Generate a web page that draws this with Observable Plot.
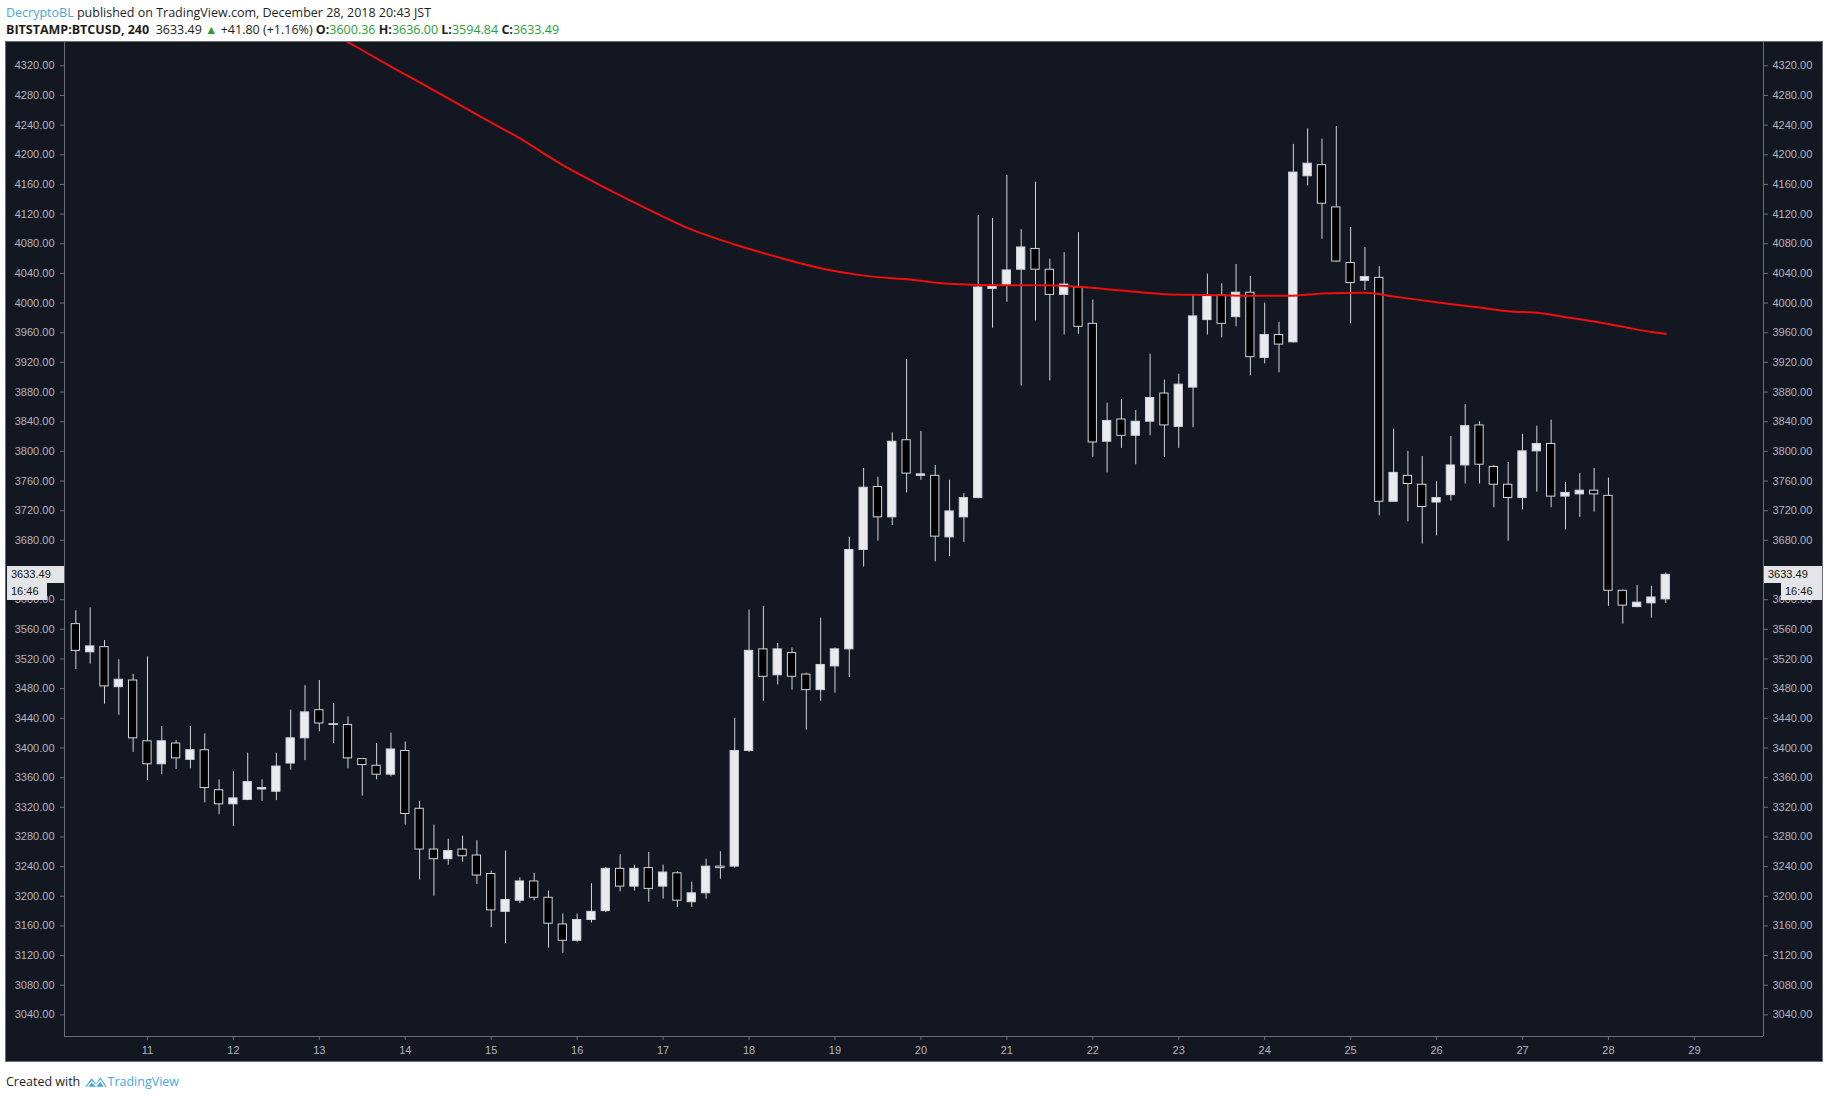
<!DOCTYPE html>
<html>
<head>
<meta charset="utf-8">
<script src="https://cdn.jsdelivr.net/npm/d3@7"></script>
<script src="https://cdn.jsdelivr.net/npm/@observablehq/plot@0.6"></script>
<style>
  html, body { margin: 0; padding: 0; background: #ffffff; }
  body { width: 1828px; height: 1098px; position: relative; overflow: hidden; font-family: "Open Sans", "Noto Sans", sans-serif; }
  .hdr { position: absolute; left: 6px; white-space: nowrap; color: #1e1e1e; font-size: 12.5px; }
  .blue { color: #42a9dc; }
  .green { color: #2e9d36; }
  #panel { position: absolute; left: 6px; top: 42px; width: 1816px; height: 1019px; background: #131722; box-sizing: border-box; outline: 1px solid #6b6e78; }
  .pbox { position: absolute; background: #e4e5e8; color: #111; font-family: "Liberation Sans", Arial, sans-serif; font-size: 11px; line-height: 17px; height: 17px; box-sizing: border-box; padding-left: 4px; }
  #footer { position: absolute; left: 6px; top: 1073px; font-size: 12.5px; color: #1e1e1e; white-space: nowrap; display: flex; align-items: center; }
</style>
</head>
<body>
<div class="hdr" style="top:4px;"><span class="blue">DecryptoBL</span> published on TradingView.com, December 28, 2018 20:43 JST</div>
<div class="hdr" style="top:21px;"><b>BITSTAMP:BTCUSD, 240</b>&nbsp; 3633.49 <span class="green">&#9650;</span> +41.80 (+1.16%) <b>O:</b><span class="green">3600.36</span> <b>H:</b><span class="green">3636.00</span> <b>L:</b><span class="green">3594.84</span> <b>C:</b><span class="green">3633.49</span></div>
<div id="panel"></div>
<div id="footer">Created with&nbsp;<svg width="24" height="15" viewBox="0 0 22 14"><path d="M1 12 L7 4 L11 9 L15 3 L21 12 Z" fill="#42a9dc"/><path d="M3 12 L7 7 L11 11 L15 6 L19 12" fill="none" stroke="#ffffff" stroke-width="1.4"/></svg><span class="blue">TradingView</span></div>
<script>
// ---- Data (BITSTAMP:BTCUSD, 4h candles, Dec 10 04:00 -> Dec 28 16:00) ----
const firstCandle = Date.UTC(2018, 11, 10, 4); // candle open time of the first bar
const barHours = 4;

const opens = [
  3567,3529,3536,3482,3491,3409,3378,3406,3384,3397,
  3343,3324,3330,3344,3341,3379,3413,3451,3431,3431,
  3385,3376,3364,3396,3318,3263,3250,3263,3255,3230,
  3179,3194,3220,3198,3162,3140,3168,3180,3237,3213,
  3238,3213,3231,3192,3204,3240,3240,3396,3533,3498,
  3528,3499,3478,3510,3533,3667,3752,3711,3815,3767,
  3767,3684,3711,3737,4019,4023,4045,4073,4045,4011,
  4021,3972,3813,3843,3821,3840,3878,3833,3886,3977,
  4010,3981,4014,3926,3957,3947,4171,4186,4129,4054,
  4030,4034,3732,3767,3755,3731,3741,3781,3835,3779,
  3755,3737,3800,3810,3739,3742,3747,3740,3612,3590,
  3595,3600.36
];
const highs = [
  3585,3589,3545,3519,3499,3523,3429,3410,3429,3419,
  3357,3368,3393,3357,3393,3451,3484,3491,3460,3442,
  3385,3406,3420,3408,3328,3296,3277,3281,3275,3234,
  3261,3225,3231,3207,3176,3176,3217,3239,3256,3242,
  3259,3242,3233,3219,3250,3260,3440,3586,3591,3541,
  3535,3501,3575,3535,3684,3777,3765,3825,3924,3827,
  3781,3761,3743,4118,4114,4172,4099,4163,4059,4068,
  4095,4004,3865,3870,3855,3931,3896,3904,4010,4039,
  4026,4052,4036,4000,3974,4214,4235,4221,4238,4102,
  4075,4049,3830,3800,3793,3759,3820,3863,3840,3781,
  3785,3823,3834,3842,3758,3770,3777,3764,3613,3619,
  3618,3636.00
];
const lows = [
  3506,3513,3459,3444,3394,3356,3364,3371,3372,3326,
  3310,3294,3329,3328,3329,3370,3383,3422,3406,3372,
  3335,3357,3361,3296,3222,3200,3242,3246,3216,3158,
  3136,3190,3194,3130,3123,3138,3164,3178,3206,3207,
  3192,3196,3185,3185,3196,3223,3238,3394,3463,3485,
  3478,3424,3463,3474,3495,3644,3679,3700,3744,3761,
  3651,3658,3677,3736,3966,4001,3888,3976,3895,3957,
  3958,3792,3771,3804,3782,3821,3792,3804,3832,3957,
  3953,3968,3902,3918,3906,3946,4158,4086,4055,3972,
  4017,3713,3732,3705,3675,3686,3733,3756,3756,3724,
  3679,3721,3745,3724,3694,3711,3718,3591,3567,3589,
  3575,3594.84
];
const closes = [
  3531,3537,3483,3492,3413,3378,3409,3386,3397,3346,
  3324,3332,3354,3346,3375,3413,3448,3433,3432,3386,
  3377,3364,3398,3311,3263,3250,3261,3254,3228,3181,
  3195,3220,3198,3163,3140,3168,3179,3237,3213,3237,
  3210,3232,3194,3204,3240,3238,3396,3531,3496,3533,
  3496,3478,3512,3533,3667,3751,3711,3813,3770,3769,
  3685,3719,3737,4021,4023,4044,4075,4045,4011,4025,
  3968,3812,3841,3821,3840,3872,3835,3890,3982,4009,
  3972,4014,3927,3957,3944,4176,4188,4134,4056,4027,
  4035,3732,3771,3756,3725,3737,3781,3834,3782,3755,
  3737,3800,3810,3739,3744,3747,3742,3612,3592,3596,
  3603,3633.49
];

// Moving average (red line): candle number -> value
const maBar = [17,20,23,26,29,32,35,38,41,44,47,50,53,56,59,62,65,68,71,74,77,80,83,86,88,91,93,96,99,101,103,105,107,109,111,112];
const maVal = [4385,4352,4319,4287,4254,4222,4186,4155,4126,4099,4079,4062,4047,4037,4032,4026,4024,4024,4022,4017,4012,4011,4010,4010,4013,4014,4009,4001,3994,3989,3987,3981,3975,3968,3961,3958.6];

const yTicks = d3.range(3040, 4321, 40);
const dayTicks = [11,12,13,14,15,16,17,18,19,20,21,22,23,24,25,26,27,28,29];
const lastPrice = 3633.49;
const countdown = "16:46";

// ---- Build tables ----
const hour = 3600e3;
const barTime = (n) => new Date(firstCandle + (n - 1) * barHours * hour);
const candles = opens.map((o, i) => ({t: barTime(i + 1), o, h: highs[i], l: lows[i], c: closes[i]}));
const ma = maBar.map((n, i) => ({t: barTime(n), v: maVal[i]}));
const dayDates = dayTicks.map(d => new Date(Date.UTC(2018, 11, d)));

const halfBody = 69.5 * 60e3; // half of a candle body, in time

const axisColor = "#6b6e78";
const textColor = "#b2b5be";

const W = 1816, H = 1019;
const xDomain = [new Date(Date.UTC(2018, 11, 10, 0, 50)), new Date(Date.UTC(2018, 11, 29, 19, 18))];
const yDomain = [3010.9, 4351.4];
const chart = Plot.plot({
  width: W, height: H,
  marginLeft: 58, marginRight: 59, marginTop: 0, marginBottom: 25,
  style: {background: "#131722", color: textColor, fontSize: "11px", fontFamily: "'Liberation Sans', Arial, sans-serif"},
  x: {type: "utc", domain: xDomain},
  y: {domain: yDomain},
  marks: [
    Plot.ruleX(candles, {x: "t", y1: "l", y2: "h", stroke: "#d1d4dc", strokeWidth: 1}),
    Plot.rect(candles, {
      x1: d => new Date(+d.t - halfBody), x2: d => new Date(+d.t + halfBody),
      y1: "o", y2: "c",
      fill: d => d.c >= d.o ? "#e9ebee" : "#000000",
      stroke: "#d1d4dc", strokeWidth: 1
    }),
    Plot.line(ma, {x: "t", y: "v", stroke: "#f20d0d", strokeWidth: 2, curve: "monotone-x", clip: true}),
    Plot.axisY({ticks: yTicks, anchor: "left", tickSize: 4, tickPadding: 6, tickFormat: d => d.toFixed(2), stroke: axisColor, fill: textColor, label: null}),
    Plot.axisY({ticks: yTicks, anchor: "right", tickSize: 4, tickPadding: 5, tickFormat: d => d.toFixed(2), stroke: axisColor, fill: textColor, label: null}),
    Plot.axisX({ticks: dayDates, anchor: "bottom", tickSize: 4, tickPadding: 6, tickFormat: d => String(d.getUTCDate()), stroke: axisColor, fill: textColor, label: null}),
    Plot.ruleX(xDomain, {stroke: axisColor, strokeWidth: 1, y1: yDomain[1], y2: yDomain[0]}),
    Plot.ruleY([yDomain[0]], {stroke: axisColor, strokeWidth: 1})
  ]
});
const panel = document.getElementById("panel");
panel.appendChild(chart);

// current price labels on both axes
const yc = chart.scale("y").apply(lastPrice);
function box(text, left, width, top) {
  const b = document.createElement("div");
  b.className = "pbox";
  b.textContent = text;
  b.style.left = left + "px";
  b.style.width = width + "px";
  b.style.top = top + "px";
  panel.appendChild(b);
}
box(lastPrice.toFixed(2), 1, 57, yc - 8.5);
box(countdown, 1, 40, yc + 9);
box(lastPrice.toFixed(2), W - 58, 58, yc - 8.5);
box(countdown, W - 41, 41, yc + 9);
</script>
</body>
</html>
